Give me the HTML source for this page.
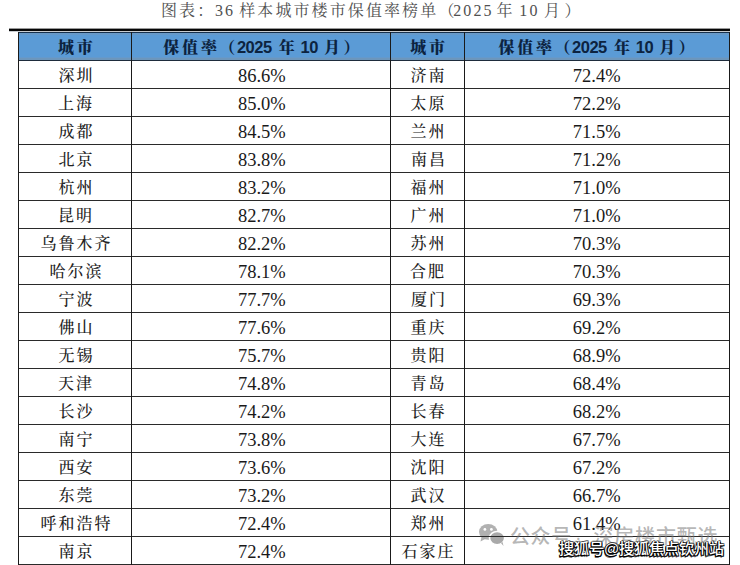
<!DOCTYPE html>
<html lang="zh-CN"><head><meta charset="utf-8"><title>36样本城市楼市保值率榜单</title><style>
*{margin:0;padding:0;box-sizing:border-box}
html,body{width:740px;height:565px;overflow:hidden;background:#fff}
body{position:relative}
#pg{position:absolute;left:0;top:0;width:740px;height:565px;overflow:hidden}
.a{position:absolute;white-space:nowrap;line-height:20px}
.wm2{text-shadow:-1px 1px 0 #000,0 1px 0 #000,-1px 0 0 #000,1px 1px 0 #000,-1px 2px 0 rgba(0,0,0,.6),1px -1px 0 rgba(0,0,0,.45),0 -1px 0 rgba(0,0,0,.45),1px 0 0 rgba(0,0,0,.5)}
</style></head>
<body>
<div id="pg">
<div class="a" style="left:161.00px;top:1.00px;font-family:'Liberation Serif','Noto Serif CJK SC',serif;font-size:16px;color:#505050;font-weight:400;letter-spacing:2.1px">图表：</div>
<div class="a" style="left:215.00px;top:1.00px;font-family:'Liberation Serif','Noto Serif CJK SC',serif;font-size:16px;color:#505050;font-weight:400;letter-spacing:2.1px">36</div>
<div class="a" style="left:239.20px;top:1.00px;font-family:'Liberation Serif','Noto Serif CJK SC',serif;font-size:16px;color:#505050;font-weight:400;letter-spacing:2.1px">样本城市楼市保值率榜单</div>
<div class="a" style="left:438.50px;top:1.00px;font-family:'Liberation Serif','Noto Serif CJK SC',serif;font-size:16px;color:#505050;font-weight:400;letter-spacing:2.1px">（</div>
<div class="a" style="left:453.20px;top:1.00px;font-family:'Liberation Serif','Noto Serif CJK SC',serif;font-size:16px;color:#505050;font-weight:400;letter-spacing:2.1px">2025</div>
<div class="a" style="left:496.60px;top:1.00px;font-family:'Liberation Serif','Noto Serif CJK SC',serif;font-size:16px;color:#505050;font-weight:400;letter-spacing:2.1px">年</div>
<div class="a" style="left:519.30px;top:1.00px;font-family:'Liberation Serif','Noto Serif CJK SC',serif;font-size:16px;color:#505050;font-weight:400;letter-spacing:2.1px">10</div>
<div class="a" style="left:544.00px;top:1.00px;font-family:'Liberation Serif','Noto Serif CJK SC',serif;font-size:16px;color:#505050;font-weight:400;letter-spacing:2.1px">月</div>
<div class="a" style="left:564.50px;top:1.00px;font-family:'Liberation Serif','Noto Serif CJK SC',serif;font-size:16px;color:#505050;font-weight:400;letter-spacing:2.1px">）</div>
<div class="a" style="left:9px;top:29px;width:721px;height:2px;background:#050505"></div>
<div class="a" style="left:9px;top:28px;width:721px;height:1px;background:#9a9a9a"></div>
<div class="a" style="left:9px;top:31px;width:721px;height:1px;background:#c8ccd0"></div>
<div class="a" style="left:18px;top:32px;width:711px;height:28px;background:#5b9bd6"></div>
<div class="a" style="left:18px;top:33px;width:711px;height:2px;background:#6699c9"></div>
<div class="a" style="left:18px;top:57px;width:711px;height:1px;background:#6499cc"></div>
<div class="a" style="left:18px;top:58px;width:711px;height:2px;background:#6c96bc"></div>
<div class="a" style="left:163.30px;top:38.00px;font-family:'Liberation Serif','Noto Serif CJK SC',serif;font-size:16px;font-weight:900;color:#0c2340;letter-spacing:2.8px">保值率</div>
<div class="a" style="left:219.30px;top:38.00px;font-family:'Liberation Serif','Noto Serif CJK SC',serif;font-size:16px;font-weight:900;color:#0c2340">（</div>
<div class="a" style="left:236.90px;top:37.00px;font-family:'Liberation Sans',sans-serif;font-size:16.5px;font-weight:700;color:#0c2340;letter-spacing:-0.5px">2025</div>
<div class="a" style="left:278.70px;top:38.00px;font-family:'Liberation Serif','Noto Serif CJK SC',serif;font-size:16px;font-weight:900;color:#0c2340">年</div>
<div class="a" style="left:300.60px;top:37.00px;font-family:'Liberation Sans',sans-serif;font-size:16.5px;font-weight:700;color:#0c2340;letter-spacing:-0.5px">10</div>
<div class="a" style="left:324.00px;top:38.00px;font-family:'Liberation Serif','Noto Serif CJK SC',serif;font-size:16px;font-weight:900;color:#0c2340">月</div>
<div class="a" style="left:343.40px;top:38.00px;font-family:'Liberation Serif','Noto Serif CJK SC',serif;font-size:16px;font-weight:900;color:#0c2340">）</div>
<div class="a" style="left:498.50px;top:38.00px;font-family:'Liberation Serif','Noto Serif CJK SC',serif;font-size:16px;font-weight:900;color:#0c2340;letter-spacing:2.8px">保值率</div>
<div class="a" style="left:554.50px;top:38.00px;font-family:'Liberation Serif','Noto Serif CJK SC',serif;font-size:16px;font-weight:900;color:#0c2340">（</div>
<div class="a" style="left:572.10px;top:37.00px;font-family:'Liberation Sans',sans-serif;font-size:16.5px;font-weight:700;color:#0c2340;letter-spacing:-0.5px">2025</div>
<div class="a" style="left:613.90px;top:38.00px;font-family:'Liberation Serif','Noto Serif CJK SC',serif;font-size:16px;font-weight:900;color:#0c2340">年</div>
<div class="a" style="left:635.80px;top:37.00px;font-family:'Liberation Sans',sans-serif;font-size:16.5px;font-weight:700;color:#0c2340;letter-spacing:-0.5px">10</div>
<div class="a" style="left:659.20px;top:38.00px;font-family:'Liberation Serif','Noto Serif CJK SC',serif;font-size:16px;font-weight:900;color:#0c2340">月</div>
<div class="a" style="left:678.60px;top:38.00px;font-family:'Liberation Serif','Noto Serif CJK SC',serif;font-size:16px;font-weight:900;color:#0c2340">）</div>
<div class="a" style="left:58.00px;top:38.00px;font-family:'Liberation Serif','Noto Serif CJK SC',serif;font-size:16px;font-weight:900;color:#0c2340;letter-spacing:2.8px">城市</div>
<div class="a" style="left:410.20px;top:38.00px;font-family:'Liberation Serif','Noto Serif CJK SC',serif;font-size:16px;font-weight:900;color:#0c2340;letter-spacing:2.8px">城市</div>
<div class="a" style="left:58.50px;top:66.00px;font-family:'Liberation Serif','Noto Serif CJK SC',serif;font-size:16px;font-weight:500;color:#222;letter-spacing:2px">深圳</div>
<div class="a" style="left:237.90px;top:66.20px;font-family:'Liberation Serif',serif;font-size:18.5px;color:#1a1a1a">86.6%</div>
<div class="a" style="left:410.40px;top:66.00px;font-family:'Liberation Serif','Noto Serif CJK SC',serif;font-size:16px;font-weight:500;color:#222;letter-spacing:2px">济南</div>
<div class="a" style="left:572.80px;top:66.20px;font-family:'Liberation Serif',serif;font-size:18.5px;color:#1a1a1a">72.4%</div>
<div class="a" style="left:58.00px;top:94.00px;font-family:'Liberation Serif','Noto Serif CJK SC',serif;font-size:16px;font-weight:500;color:#222;letter-spacing:2px">上海</div>
<div class="a" style="left:237.90px;top:94.20px;font-family:'Liberation Serif',serif;font-size:18.5px;color:#1a1a1a">85.0%</div>
<div class="a" style="left:410.40px;top:94.00px;font-family:'Liberation Serif','Noto Serif CJK SC',serif;font-size:16px;font-weight:500;color:#222;letter-spacing:2px">太原</div>
<div class="a" style="left:572.80px;top:94.20px;font-family:'Liberation Serif',serif;font-size:18.5px;color:#1a1a1a">72.2%</div>
<div class="a" style="left:58.50px;top:122.00px;font-family:'Liberation Serif','Noto Serif CJK SC',serif;font-size:16px;font-weight:500;color:#222;letter-spacing:2px">成都</div>
<div class="a" style="left:237.90px;top:122.20px;font-family:'Liberation Serif',serif;font-size:18.5px;color:#1a1a1a">84.5%</div>
<div class="a" style="left:410.40px;top:122.00px;font-family:'Liberation Serif','Noto Serif CJK SC',serif;font-size:16px;font-weight:500;color:#222;letter-spacing:2px">兰州</div>
<div class="a" style="left:572.80px;top:122.20px;font-family:'Liberation Serif',serif;font-size:18.5px;color:#1a1a1a">71.5%</div>
<div class="a" style="left:58.50px;top:150.00px;font-family:'Liberation Serif','Noto Serif CJK SC',serif;font-size:16px;font-weight:500;color:#222;letter-spacing:2px">北京</div>
<div class="a" style="left:237.90px;top:150.20px;font-family:'Liberation Serif',serif;font-size:18.5px;color:#1a1a1a">83.8%</div>
<div class="a" style="left:410.90px;top:150.00px;font-family:'Liberation Serif','Noto Serif CJK SC',serif;font-size:16px;font-weight:500;color:#222;letter-spacing:2px">南昌</div>
<div class="a" style="left:572.80px;top:150.20px;font-family:'Liberation Serif',serif;font-size:18.5px;color:#1a1a1a">71.2%</div>
<div class="a" style="left:58.50px;top:178.00px;font-family:'Liberation Serif','Noto Serif CJK SC',serif;font-size:16px;font-weight:500;color:#222;letter-spacing:2px">杭州</div>
<div class="a" style="left:237.90px;top:178.20px;font-family:'Liberation Serif',serif;font-size:18.5px;color:#1a1a1a">83.2%</div>
<div class="a" style="left:410.40px;top:178.00px;font-family:'Liberation Serif','Noto Serif CJK SC',serif;font-size:16px;font-weight:500;color:#222;letter-spacing:2px">福州</div>
<div class="a" style="left:572.80px;top:178.20px;font-family:'Liberation Serif',serif;font-size:18.5px;color:#1a1a1a">71.0%</div>
<div class="a" style="left:58.00px;top:206.00px;font-family:'Liberation Serif','Noto Serif CJK SC',serif;font-size:16px;font-weight:500;color:#222;letter-spacing:2px">昆明</div>
<div class="a" style="left:237.90px;top:206.20px;font-family:'Liberation Serif',serif;font-size:18.5px;color:#1a1a1a">82.7%</div>
<div class="a" style="left:410.40px;top:206.00px;font-family:'Liberation Serif','Noto Serif CJK SC',serif;font-size:16px;font-weight:500;color:#222;letter-spacing:2px">广州</div>
<div class="a" style="left:572.80px;top:206.20px;font-family:'Liberation Serif',serif;font-size:18.5px;color:#1a1a1a">71.0%</div>
<div class="a" style="left:40.50px;top:234.00px;font-family:'Liberation Serif','Noto Serif CJK SC',serif;font-size:16px;font-weight:500;color:#222;letter-spacing:2px">乌鲁木齐</div>
<div class="a" style="left:237.90px;top:234.20px;font-family:'Liberation Serif',serif;font-size:18.5px;color:#1a1a1a">82.2%</div>
<div class="a" style="left:410.40px;top:234.00px;font-family:'Liberation Serif','Noto Serif CJK SC',serif;font-size:16px;font-weight:500;color:#222;letter-spacing:2px">苏州</div>
<div class="a" style="left:572.80px;top:234.20px;font-family:'Liberation Serif',serif;font-size:18.5px;color:#1a1a1a">70.3%</div>
<div class="a" style="left:49.50px;top:262.00px;font-family:'Liberation Serif','Noto Serif CJK SC',serif;font-size:16px;font-weight:500;color:#222;letter-spacing:2px">哈尔滨</div>
<div class="a" style="left:237.90px;top:262.20px;font-family:'Liberation Serif',serif;font-size:18.5px;color:#1a1a1a">78.1%</div>
<div class="a" style="left:409.90px;top:262.00px;font-family:'Liberation Serif','Noto Serif CJK SC',serif;font-size:16px;font-weight:500;color:#222;letter-spacing:2px">合肥</div>
<div class="a" style="left:572.80px;top:262.20px;font-family:'Liberation Serif',serif;font-size:18.5px;color:#1a1a1a">70.3%</div>
<div class="a" style="left:58.50px;top:290.00px;font-family:'Liberation Serif','Noto Serif CJK SC',serif;font-size:16px;font-weight:500;color:#222;letter-spacing:2px">宁波</div>
<div class="a" style="left:237.90px;top:290.20px;font-family:'Liberation Serif',serif;font-size:18.5px;color:#1a1a1a">77.7%</div>
<div class="a" style="left:410.90px;top:290.00px;font-family:'Liberation Serif','Noto Serif CJK SC',serif;font-size:16px;font-weight:500;color:#222;letter-spacing:2px">厦门</div>
<div class="a" style="left:572.80px;top:290.20px;font-family:'Liberation Serif',serif;font-size:18.5px;color:#1a1a1a">69.3%</div>
<div class="a" style="left:58.50px;top:318.00px;font-family:'Liberation Serif','Noto Serif CJK SC',serif;font-size:16px;font-weight:500;color:#222;letter-spacing:2px">佛山</div>
<div class="a" style="left:237.90px;top:318.20px;font-family:'Liberation Serif',serif;font-size:18.5px;color:#1a1a1a">77.6%</div>
<div class="a" style="left:410.40px;top:318.00px;font-family:'Liberation Serif','Noto Serif CJK SC',serif;font-size:16px;font-weight:500;color:#222;letter-spacing:2px">重庆</div>
<div class="a" style="left:572.80px;top:318.20px;font-family:'Liberation Serif',serif;font-size:18.5px;color:#1a1a1a">69.2%</div>
<div class="a" style="left:58.50px;top:346.00px;font-family:'Liberation Serif','Noto Serif CJK SC',serif;font-size:16px;font-weight:500;color:#222;letter-spacing:2px">无锡</div>
<div class="a" style="left:237.90px;top:346.20px;font-family:'Liberation Serif',serif;font-size:18.5px;color:#1a1a1a">75.7%</div>
<div class="a" style="left:410.40px;top:346.00px;font-family:'Liberation Serif','Noto Serif CJK SC',serif;font-size:16px;font-weight:500;color:#222;letter-spacing:2px">贵阳</div>
<div class="a" style="left:572.80px;top:346.20px;font-family:'Liberation Serif',serif;font-size:18.5px;color:#1a1a1a">68.9%</div>
<div class="a" style="left:58.00px;top:374.00px;font-family:'Liberation Serif','Noto Serif CJK SC',serif;font-size:16px;font-weight:500;color:#222;letter-spacing:2px">天津</div>
<div class="a" style="left:237.90px;top:374.20px;font-family:'Liberation Serif',serif;font-size:18.5px;color:#1a1a1a">74.8%</div>
<div class="a" style="left:410.40px;top:374.00px;font-family:'Liberation Serif','Noto Serif CJK SC',serif;font-size:16px;font-weight:500;color:#222;letter-spacing:2px">青岛</div>
<div class="a" style="left:572.80px;top:374.20px;font-family:'Liberation Serif',serif;font-size:18.5px;color:#1a1a1a">68.4%</div>
<div class="a" style="left:58.50px;top:402.00px;font-family:'Liberation Serif','Noto Serif CJK SC',serif;font-size:16px;font-weight:500;color:#222;letter-spacing:2px">长沙</div>
<div class="a" style="left:237.90px;top:402.20px;font-family:'Liberation Serif',serif;font-size:18.5px;color:#1a1a1a">74.2%</div>
<div class="a" style="left:410.40px;top:402.00px;font-family:'Liberation Serif','Noto Serif CJK SC',serif;font-size:16px;font-weight:500;color:#222;letter-spacing:2px">长春</div>
<div class="a" style="left:572.80px;top:402.20px;font-family:'Liberation Serif',serif;font-size:18.5px;color:#1a1a1a">68.2%</div>
<div class="a" style="left:58.50px;top:430.00px;font-family:'Liberation Serif','Noto Serif CJK SC',serif;font-size:16px;font-weight:500;color:#222;letter-spacing:2px">南宁</div>
<div class="a" style="left:237.90px;top:430.20px;font-family:'Liberation Serif',serif;font-size:18.5px;color:#1a1a1a">73.8%</div>
<div class="a" style="left:410.40px;top:430.00px;font-family:'Liberation Serif','Noto Serif CJK SC',serif;font-size:16px;font-weight:500;color:#222;letter-spacing:2px">大连</div>
<div class="a" style="left:572.80px;top:430.20px;font-family:'Liberation Serif',serif;font-size:18.5px;color:#1a1a1a">67.7%</div>
<div class="a" style="left:58.50px;top:458.00px;font-family:'Liberation Serif','Noto Serif CJK SC',serif;font-size:16px;font-weight:500;color:#222;letter-spacing:2px">西安</div>
<div class="a" style="left:237.90px;top:458.20px;font-family:'Liberation Serif',serif;font-size:18.5px;color:#1a1a1a">73.6%</div>
<div class="a" style="left:410.40px;top:458.00px;font-family:'Liberation Serif','Noto Serif CJK SC',serif;font-size:16px;font-weight:500;color:#222;letter-spacing:2px">沈阳</div>
<div class="a" style="left:572.80px;top:458.20px;font-family:'Liberation Serif',serif;font-size:18.5px;color:#1a1a1a">67.2%</div>
<div class="a" style="left:58.50px;top:486.00px;font-family:'Liberation Serif','Noto Serif CJK SC',serif;font-size:16px;font-weight:500;color:#222;letter-spacing:2px">东莞</div>
<div class="a" style="left:237.90px;top:486.20px;font-family:'Liberation Serif',serif;font-size:18.5px;color:#1a1a1a">73.2%</div>
<div class="a" style="left:410.40px;top:486.00px;font-family:'Liberation Serif','Noto Serif CJK SC',serif;font-size:16px;font-weight:500;color:#222;letter-spacing:2px">武汉</div>
<div class="a" style="left:572.80px;top:486.20px;font-family:'Liberation Serif',serif;font-size:18.5px;color:#1a1a1a">66.7%</div>
<div class="a" style="left:40.50px;top:514.00px;font-family:'Liberation Serif','Noto Serif CJK SC',serif;font-size:16px;font-weight:500;color:#222;letter-spacing:2px">呼和浩特</div>
<div class="a" style="left:237.90px;top:514.20px;font-family:'Liberation Serif',serif;font-size:18.5px;color:#1a1a1a">72.4%</div>
<div class="a" style="left:410.40px;top:514.00px;font-family:'Liberation Serif','Noto Serif CJK SC',serif;font-size:16px;font-weight:500;color:#222;letter-spacing:2px">郑州</div>
<div class="a" style="left:572.80px;top:514.20px;font-family:'Liberation Serif',serif;font-size:18.5px;color:#1a1a1a">61.4%</div>
<div class="a" style="left:58.50px;top:542.00px;font-family:'Liberation Serif','Noto Serif CJK SC',serif;font-size:16px;font-weight:500;color:#222;letter-spacing:2px">南京</div>
<div class="a" style="left:237.90px;top:542.20px;font-family:'Liberation Serif',serif;font-size:18.5px;color:#1a1a1a">72.4%</div>
<div class="a" style="left:401.40px;top:542.00px;font-family:'Liberation Serif','Noto Serif CJK SC',serif;font-size:16px;font-weight:500;color:#222;letter-spacing:2px">石家庄</div>
<svg class="a" style="left:0;top:0" width="740" height="565" viewBox="0 0 740 565"><g fill="#a9a9a9" fill-opacity=".9"><ellipse cx="488.2" cy="531.8" rx="9.2" ry="7.9"/><path d="M481.5 537 L480.5 541.5 L486 538.5 Z"/></g><circle cx="484.9" cy="529.4" r="1.4" fill="#fff"/><circle cx="491.4" cy="529.4" r="1.4" fill="#fff"/><ellipse cx="497.1" cy="538.1" rx="7.6" ry="6.6" fill="#a9a9a9" stroke="#fff" stroke-width="1.6"/><path d="M501 543 L503.5 546 L502.5 542 Z" fill="#a9a9a9"/></svg>
<div class="a" style="left:18px;top:32px;width:712px;height:1px;background:#16304c"></div>
<div class="a" style="left:18px;top:60px;width:712px;height:1px;background:#1e2c3c"></div>
<div class="a" style="left:18px;top:88px;width:712px;height:1px;background:#2a2a2a"></div>
<div class="a" style="left:18px;top:116px;width:712px;height:1px;background:#2a2a2a"></div>
<div class="a" style="left:18px;top:144px;width:712px;height:1px;background:#2a2a2a"></div>
<div class="a" style="left:18px;top:172px;width:712px;height:1px;background:#2a2a2a"></div>
<div class="a" style="left:18px;top:200px;width:712px;height:1px;background:#2a2a2a"></div>
<div class="a" style="left:18px;top:228px;width:712px;height:1px;background:#2a2a2a"></div>
<div class="a" style="left:18px;top:256px;width:712px;height:1px;background:#2a2a2a"></div>
<div class="a" style="left:18px;top:284px;width:712px;height:1px;background:#2a2a2a"></div>
<div class="a" style="left:18px;top:312px;width:712px;height:1px;background:#2a2a2a"></div>
<div class="a" style="left:18px;top:340px;width:712px;height:1px;background:#2a2a2a"></div>
<div class="a" style="left:18px;top:368px;width:712px;height:1px;background:#2a2a2a"></div>
<div class="a" style="left:18px;top:396px;width:712px;height:1px;background:#2a2a2a"></div>
<div class="a" style="left:18px;top:424px;width:712px;height:1px;background:#2a2a2a"></div>
<div class="a" style="left:18px;top:452px;width:712px;height:1px;background:#2a2a2a"></div>
<div class="a" style="left:18px;top:480px;width:712px;height:1px;background:#2a2a2a"></div>
<div class="a" style="left:18px;top:508px;width:712px;height:1px;background:#2a2a2a"></div>
<div class="a" style="left:18px;top:536px;width:712px;height:1px;background:#2a2a2a"></div>
<div class="a" style="left:18px;top:564px;width:712px;height:1px;background:#2a2a2a"></div>
<div class="a" style="left:18px;top:32px;width:1px;height:533px;background:#1a1a1a"></div>
<div class="a" style="left:131px;top:32px;width:1px;height:533px;background:#1a1a1a"></div>
<div class="a" style="left:390px;top:32px;width:1px;height:533px;background:#1a1a1a"></div>
<div class="a" style="left:464px;top:32px;width:1px;height:533px;background:#1a1a1a"></div>
<div class="a" style="left:729px;top:32px;width:1px;height:533px;background:#1a1a1a"></div>
<div class="a" style="left:510.00px;top:527.00px;font-family:'Liberation Sans','Noto Sans CJK SC',sans-serif;font-size:20px;font-weight:500;color:rgba(120,120,120,.55);letter-spacing:0.6px">公众号</div>
<div class="a" style="left:575.00px;top:527.00px;font-family:'Liberation Sans','Noto Sans CJK SC',sans-serif;font-size:20px;font-weight:500;color:rgba(120,120,120,.55)">·</div>
<div class="a" style="left:593.50px;top:527.00px;font-family:'Liberation Sans','Noto Sans CJK SC',sans-serif;font-size:20px;font-weight:500;color:rgba(120,120,120,.55);letter-spacing:0.8px">深房楼市甄选</div>
<div class="a wm2" style="left:558.90px;top:538.50px;font-family:'Liberation Sans','Noto Sans CJK SC',sans-serif;font-size:15px;font-weight:500;color:#fff">搜狐号@搜狐焦点钦州站</div>
</div>
</body></html>
